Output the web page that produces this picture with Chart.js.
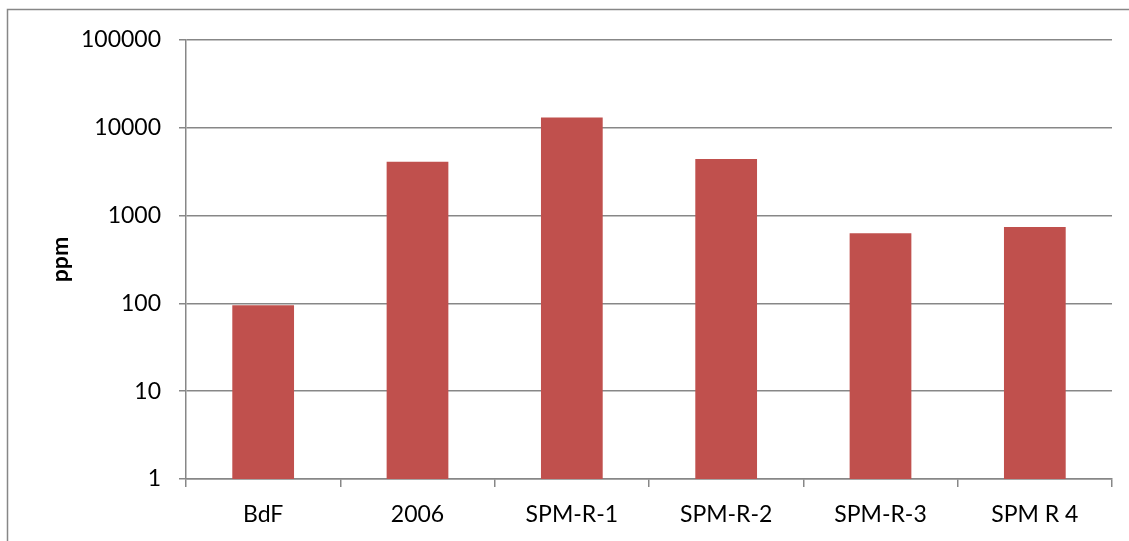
<!DOCTYPE html>
<html>
<head>
<meta charset="utf-8">
<script src="https://cdn.jsdelivr.net/npm/chart.js@4/dist/chart.umd.min.js"></script>
<style>
  html, body { margin: 0; padding: 0; background: #ffffff; }
  #wrap { width: 1129px; height: 541px; position: relative; }
</style>
</head>
<body>
<div id="wrap"><canvas id="c" width="1129" height="541"></canvas></div>
<script>
// Concentration per sample (ppm), log scale
const categories = ['BdF', '2006', 'SPM-R-1', 'SPM-R-2', 'SPM-R-3', 'SPM R 4'];
const ppmValues = [95, 4100, 13100, 4400, 630, 740];
const yTickValues = [1, 10, 100, 1000, 10000, 100000];
const yAxisTitle = 'ppm';

const gridGray = '#878787';
const fontFamily = 'Lato, "Open Sans", sans-serif';

// Frame around the whole chart (the right and bottom edges sit past the canvas)
const framePlugin = {
  id: 'frame',
  beforeDraw(chart) {
    const ctx = chart.ctx;
    ctx.save();
    ctx.fillStyle = '#ffffff';
    ctx.fillRect(0, 0, chart.width, chart.height);
    ctx.strokeStyle = gridGray;
    ctx.lineWidth = 1.5;
    ctx.strokeRect(7.5, 9.5, chart.width + 20, chart.height + 20);
    ctx.restore();
  }
};

new Chart(document.getElementById('c'), {
  type: 'bar',
  data: {
    labels: categories,
    datasets: [{
      data: ppmValues,
      backgroundColor: '#C0504D',
      borderWidth: 0,
      categoryPercentage: 1,
      barPercentage: 0.4
    }]
  },
  options: {
    responsive: false,
    animation: false,
    devicePixelRatio: 1,
    layout: { padding: { left: 0, top: 40, right: 17, bottom: 0 } },
    plugins: {
      legend: { display: false },
      tooltip: { enabled: false }
    },
    scales: {
      x: {
        offset: true,
        grid: {
          offset: true,
          drawOnChartArea: false,
          drawTicks: true,
          tickLength: 8,
          color: gridGray,
          lineWidth: 1.5
        },
        border: { display: true, color: gridGray, width: 1.5 },
        ticks: {
          color: '#000000',
          padding: 14,
          font: { family: fontFamily, size: 23 },
          maxRotation: 0,
          autoSkip: false
        },
        afterFit(scale) { scale.height = 62; }
      },
      y: {
        type: 'logarithmic',
        min: 1,
        max: 100000,
        afterBuildTicks(scale) {
          scale.ticks = yTickValues.map(v => ({ value: v }));
        },
        grid: {
          color: gridGray,
          lineWidth: 1.5,
          drawTicks: true,
          tickLength: 7
        },
        border: { display: true, color: gridGray, width: 1.5 },
        ticks: {
          color: '#000000',
          padding: 18,
          font: { family: fontFamily, size: 23 },
          callback: (v) => String(v)
        },
        title: {
          display: true,
          text: yAxisTitle,
          color: '#000000',
          font: { family: fontFamily, size: 23, weight: 'bold' },
          padding: { top: 47, bottom: 0 }
        },
        afterFit(scale) { scale.width = 186; }
      }
    }
  },
  plugins: [framePlugin]
});
</script>
</body>
</html>
